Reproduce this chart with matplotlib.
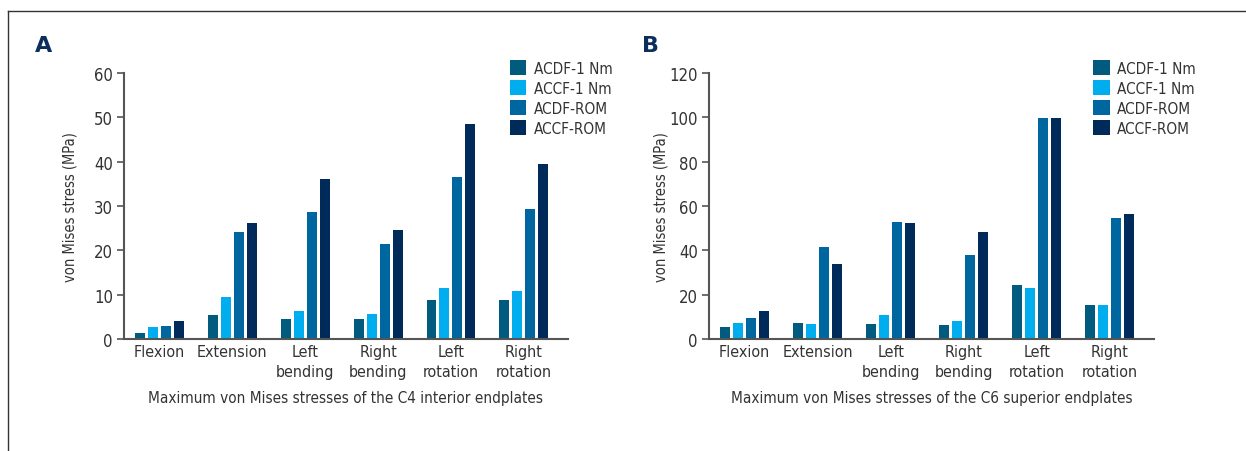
import matplotlib
matplotlib.use("Agg")
import matplotlib.pyplot as plt
import numpy as np
from matplotlib.lines import Line2D

plt.rcParams['font.family'] = ['DejaVu Sans']
plt.rcParams['font.stretch'] = 'condensed'

categories = ["Flexion", "Extension", "Left\nbending", "Right\nbending", "Left\nrotation", "Right\nrotation"]
series_names = ["ACDF-1 Nm", "ACCF-1 Nm", "ACDF-ROM", "ACCF-ROM"]
colors = ["#005b7f", "#00adef", "#0066a0", "#002a5a"]

# Panel A: C4 interior endplates
a_acdf_1nm = [1.4, 5.3, 4.4, 4.6, 8.7, 8.7]
a_accf_1nm = [2.6, 9.4, 6.2, 5.7, 11.4, 10.9]
a_acdf_rom = [3.0, 24.1, 28.6, 21.4, 36.5, 29.3]
a_accf_rom = [4.1, 26.1, 36.1, 24.5, 48.5, 39.5]

# Panel B: C6 superior endplates
b_acdf_1nm = [5.4, 7.2, 6.8, 6.3, 24.4, 15.3]
b_accf_1nm = [7.2, 6.8, 10.8, 8.1, 23.0, 15.3]
b_acdf_rom = [9.5, 41.5, 52.8, 37.9, 99.7, 54.6]
b_accf_rom = [12.6, 33.8, 52.3, 48.3, 99.7, 56.4]

text_color = "#333333"
spine_color = "#555555"

fig = plt.figure(figsize=(12.46, 4.52), dpi=100)

def panel(rect, data, ymax, yticks, xlabel, letter, letter_pos, legend_pos, ylab_x):
    ax = fig.add_axes(rect)
    x = np.arange(len(categories))
    width = 0.137
    offsets = [-0.267, -0.089, 0.089, 0.267]
    for vals, off, c, name in zip(data, offsets, colors, series_names):
        ax.bar(x + off, vals, width, color=c, label=name, zorder=2)
    ax.set_xlim(-0.487, 5.6)
    ax.set_ylim(0, ymax)
    ax.set_yticks(yticks)
    ax.set_xticks(x)
    ax.set_xticklabels(categories, fontsize=11.5, color=text_color, linespacing=1.35)
    ax.tick_params(axis='x', length=0, pad=4)
    ax.tick_params(axis='y', length=5, width=1.2, color=spine_color, labelsize=12,
                   labelcolor=text_color, direction='out', pad=3)
    for s in ['top', 'right']:
        ax.spines[s].set_visible(False)
    for s in ['left', 'bottom']:
        ax.spines[s].set_color(spine_color)
        ax.spines[s].set_linewidth(1.5)
    ax.set_ylabel("von Mises stress (MPa)", fontsize=10.5, color=text_color)
    ax.yaxis.set_label_coords(ylab_x, 0.5)
    ax.set_xlabel(xlabel, fontsize=11, color=text_color, labelpad=8)
    leg = ax.legend(loc='upper left', bbox_to_anchor=legend_pos, bbox_transform=fig.transFigure,
                    frameon=False, fontsize=11, handlelength=1.1, handleheight=1.1,
                    handletextpad=0.5, labelspacing=0.3, borderaxespad=0, borderpad=0)
    for t in leg.get_texts():
        t.set_color(text_color)
    fig.text(letter_pos[0], letter_pos[1], letter, fontsize=16, fontweight='bold',
             color="#0b2e5c", family='DejaVu Sans', stretch='normal', ha='left', va='baseline')
    return ax

panel([0.0995, 0.248, 0.356, 0.588],
      [a_acdf_1nm, a_accf_1nm, a_acdf_rom, a_accf_rom], 60, [0, 10, 20, 30, 40, 50, 60],
      "Maximum von Mises stresses of the C4 interior endplates", "A", (0.028, 0.885), (0.409, 0.865), -0.105)
panel([0.569, 0.248, 0.357, 0.588],
      [b_acdf_1nm, b_accf_1nm, b_acdf_rom, b_accf_rom], 120, [0, 20, 40, 60, 80, 100, 120],
      "Maximum von Mises stresses of the C6 superior endplates", "B", (0.515, 0.885), (0.877, 0.865), -0.092)

# frame lines (top and left)
fig.add_artist(Line2D([0.0064, 1.0], [0.973, 0.973], transform=fig.transFigure, color="#333333", lw=1.0))
fig.add_artist(Line2D([0.0064, 0.0064], [0.0, 0.973], transform=fig.transFigure, color="#333333", lw=1.0))

fig.savefig("out.png", dpi=100)
